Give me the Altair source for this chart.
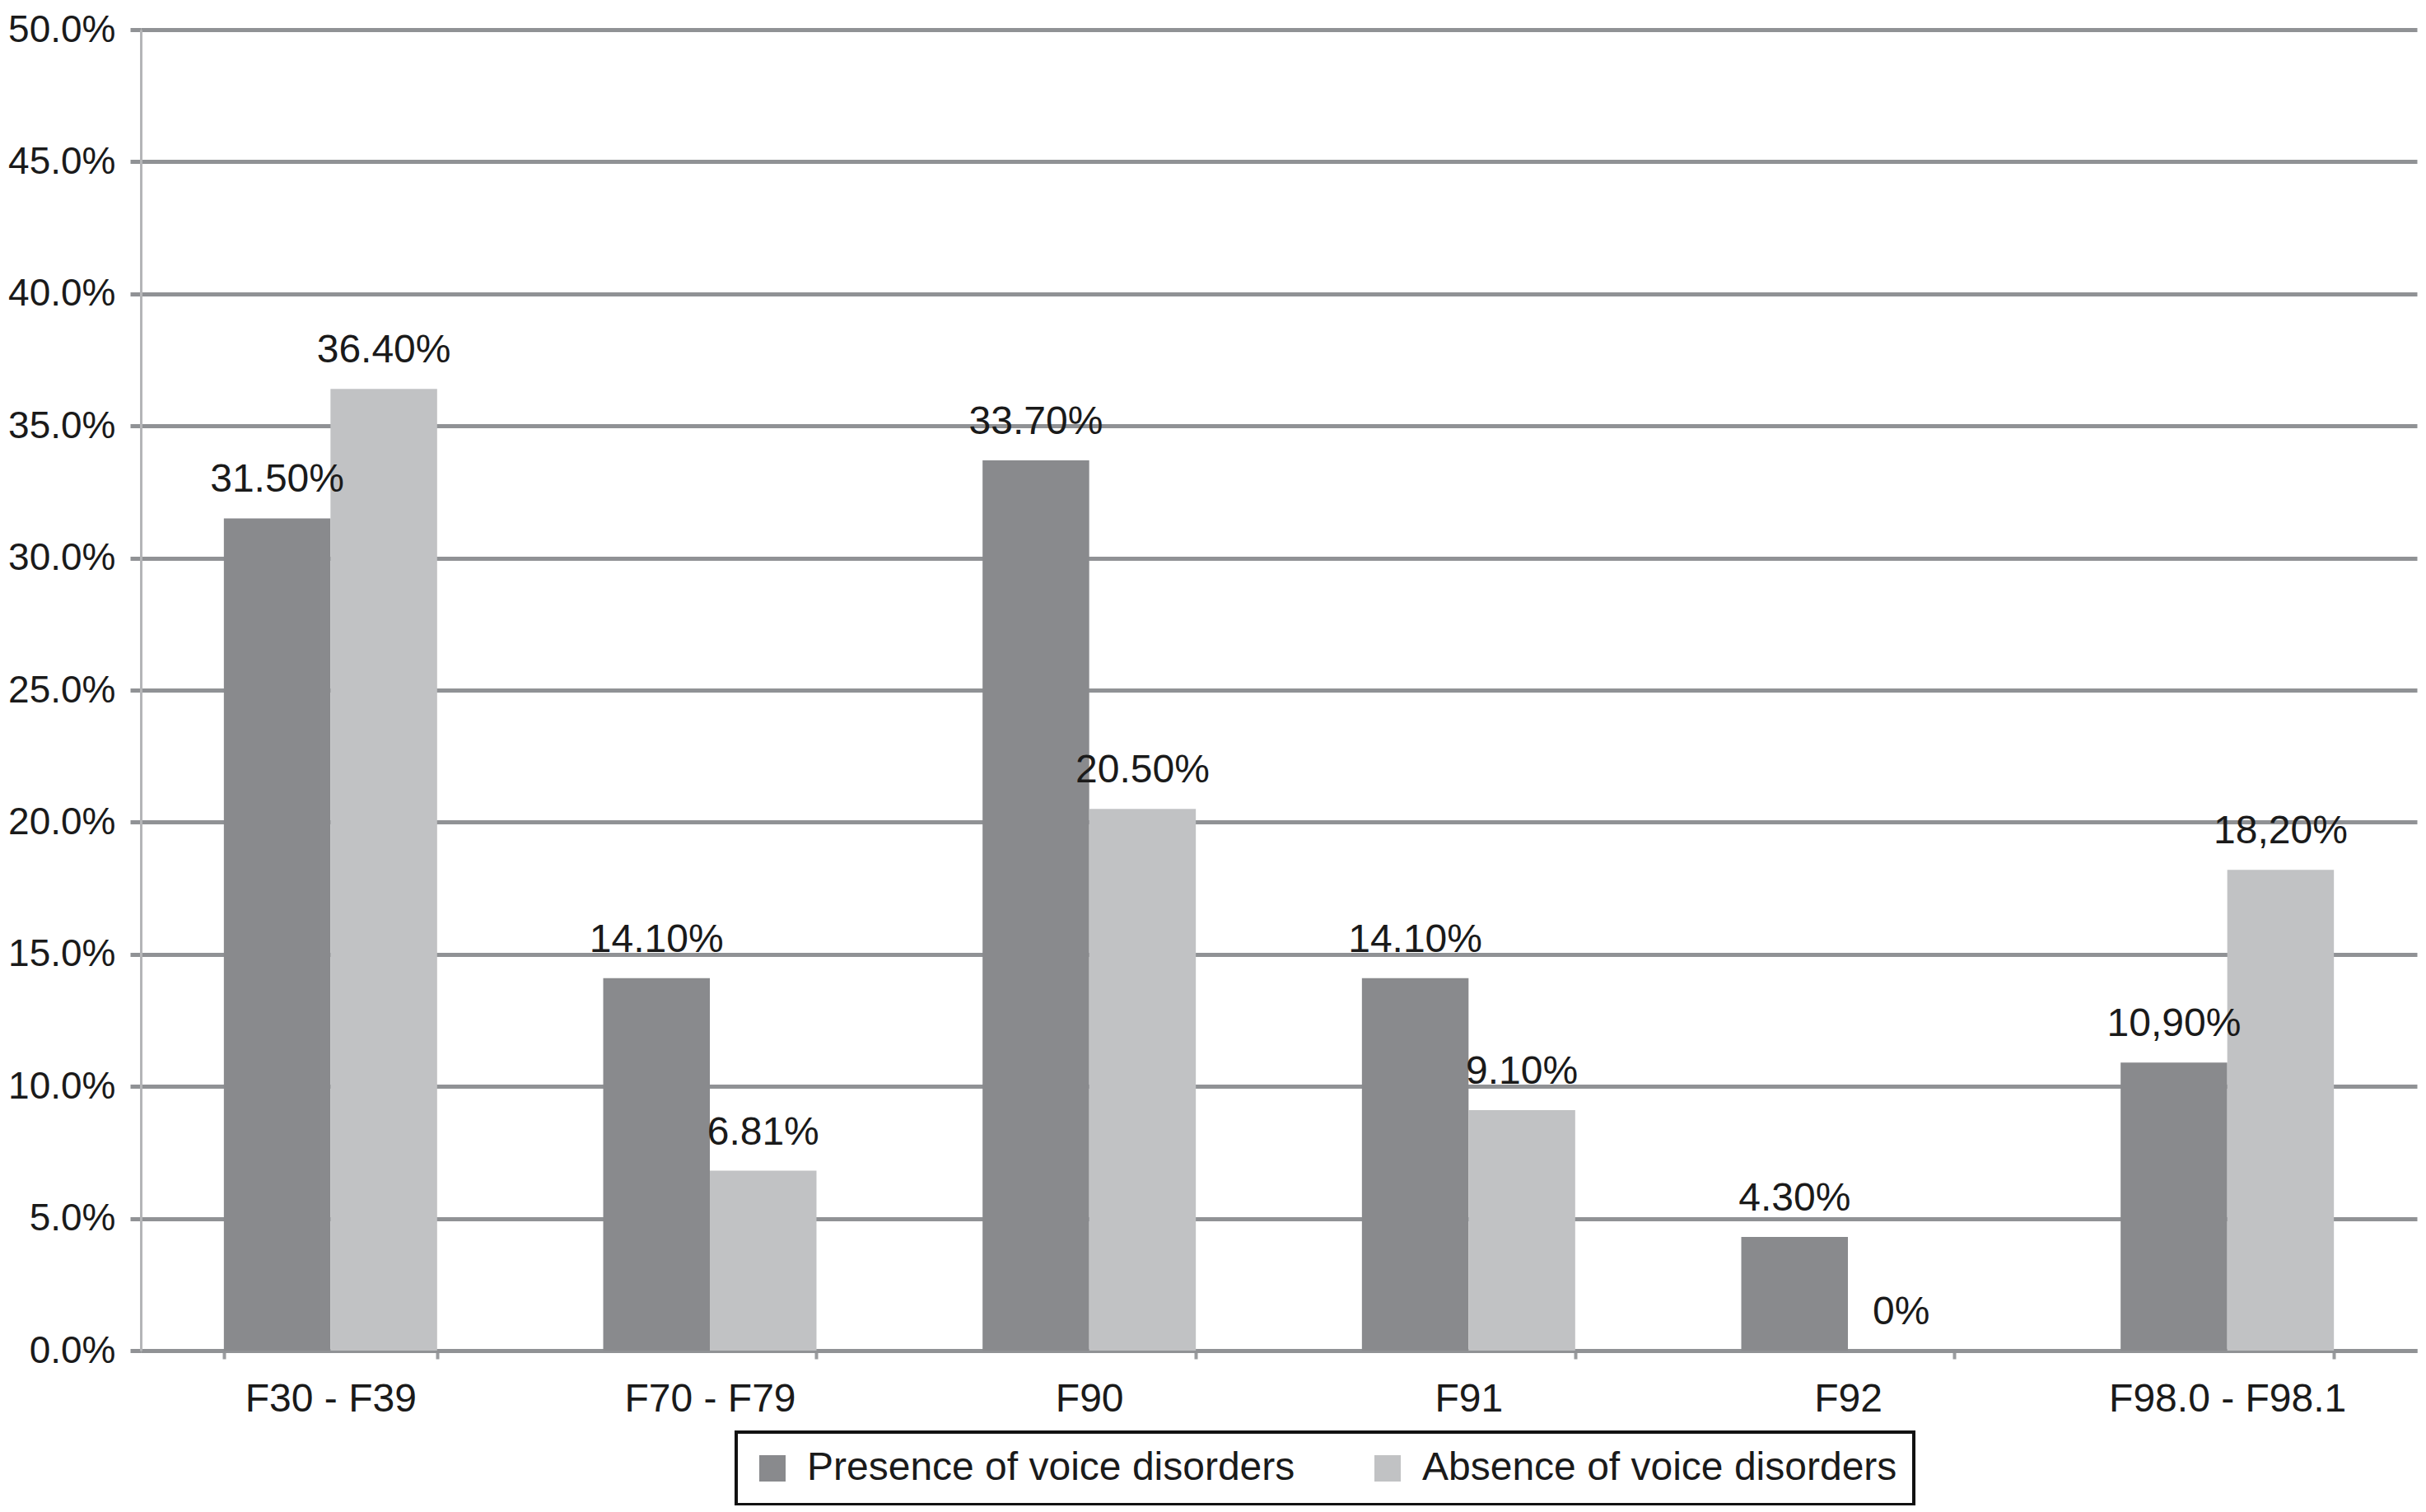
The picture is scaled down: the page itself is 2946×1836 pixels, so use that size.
import altair as alt
import pandas as pd

categories = ["F30 - F39", "F70 - F79", "F90", "F91", "F92", "F98.0 - F98.1"]
presence = [31.5, 14.1, 33.7, 14.1, 4.3, 10.9]
absence = [36.4, 6.81, 20.5, 9.1, 0.0, 18.2]
presence_labels = ["31.50%", "14.10%", "33.70%", "14.10%", "4.30%", "10,90%"]
absence_labels = ["36.40%", "6.81%", "20.50%", "9.10%", "0%", "18,20%"]
series = ["Presence of voice disorders", "Absence of voice disorders"]
colors = ["#898a8d", "#c1c2c4"]
y_ticks = [0.0, 0.05, 0.10, 0.15, 0.20, 0.25, 0.30, 0.35, 0.40, 0.45, 0.50]

rows = []
for i, c in enumerate(categories):
    rows.append(dict(category=c, series=series[0], value=presence[i] / 100, label=presence_labels[i]))
    rows.append(dict(category=c, series=series[1], value=absence[i] / 100, label=absence_labels[i]))
df = pd.DataFrame(rows)

FONT = "Liberation Sans"
TXT = "#1a1a1a"
GRID = "#909295"

x_enc = alt.X(
    "category:N", sort=categories, title=None,
    scale=alt.Scale(paddingInner=0.4378, paddingOuter=0.2189),
    axis=alt.Axis(labelAngle=0, labelFontSize=48, labelFont=FONT, labelColor=TXT,
                  labelPadding=25, labelLimit=0, tickBand="extent", tickSize=10,
                  tickWidth=4, tickColor="#9a9c9f", domainColor=GRID, domainWidth=5,
                  grid=False),
)
xo_enc = alt.XOffset("series:N", sort=series,
                     scale=alt.Scale(domain=series, paddingInner=0, paddingOuter=0))
y_enc = alt.Y(
    "value:Q", title=None, scale=alt.Scale(domain=[0, 0.5], nice=False),
    axis=alt.Axis(values=y_ticks, format=".1%", labelFontSize=46, labelFont=FONT,
                  labelColor=TXT, labelPadding=18, labelLimit=0, grid=True,
                  gridColor=GRID, gridWidth=5, tickSize=13, tickWidth=5, tickColor=GRID,
                  domainColor="#b4b5b7", domainWidth=3),
)
color_enc = alt.Color(
    "series:N", sort=series, scale=alt.Scale(domain=series, range=colors),
    legend=alt.Legend(title=None, orient="none", legendX=723, legendY=1703,
                      direction="horizontal", symbolType="square", symbolSize=1024,
                      symbolStrokeWidth=0, symbolOpacity=1, labelFontSize=48,
                      labelFont=FONT, labelColor=TXT, labelOffset=18,
                      columnPadding=88, padding=20, strokeColor="#111111",
                      labelLimit=0),
)

bars = alt.Chart(df).mark_bar().encode(x=x_enc, xOffset=xo_enc, y=y_enc, color=color_enc)

text = alt.Chart(df).mark_text(
    baseline="alphabetic", dy=-32, fontSize=48, font=FONT, color=TXT
).encode(
    x=alt.X("category:N", sort=categories),
    xOffset=alt.XOffset("series:N", sort=series),
    y=alt.Y("value:Q"),
    text="label:N",
)

chart = (
    alt.layer(bars, text)
    .properties(
        width=2764, height=1604,
        padding={"left": 163, "top": 28, "right": 3, "bottom": 188},
        autosize=alt.AutoSizeParams(type="none"),
    )
    .configure_view(stroke=None)
    .configure_legend(strokeWidth=4)
)

chart.save("out.html", embed_options={"renderer": "svg", "actions": False})
